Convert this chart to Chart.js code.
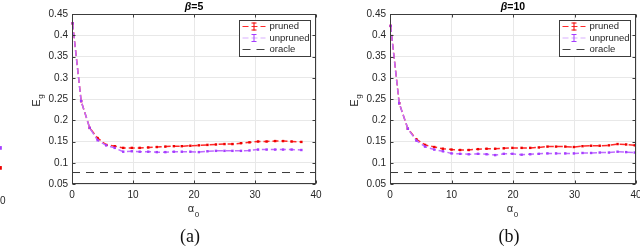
<!DOCTYPE html>
<html>
<head>
<meta charset="utf-8">
<script src="https://cdn.jsdelivr.net/npm/chart.js@4.4.0/dist/chart.umd.min.js"></script>
<style>
  html, body { margin: 0; padding: 0; background: #fff; overflow: hidden; width: 640px; height: 252px; }
  canvas { position: absolute; top: 0; }
</style>
</head>
<body>
<canvas id="panelC" width="330" height="252" style="left:-316px; top:6px"></canvas>
<canvas id="panelA" width="330" height="252" style="left:0"></canvas>
<canvas id="panelB" width="330" height="252" style="left:320px"></canvas>
<script>
// ---- data ----
const xTicks = [0, 10, 20, 30, 40];
const yTicks = [0.05, 0.1, 0.15, 0.2, 0.25, 0.3, 0.35, 0.4, 0.45];

// (a) beta = 5
const alphaA = [0.1, 1.5, 2.9, 4.2, 5.6, 7.0, 8.4, 9.8, 11.1, 12.5, 13.9, 15.3, 16.7, 18.0,
                19.4, 20.8, 22.2, 23.6, 25.0, 26.3, 27.7, 29.1, 30.5, 31.9, 33.3, 34.6, 36.0, 37.6];
const prunedA = [0.428, 0.245, 0.182, 0.158, 0.142, 0.139, 0.135, 0.135, 0.135, 0.136, 0.137, 0.138, 0.139, 0.139,
                 0.140, 0.141, 0.142, 0.143, 0.144, 0.144, 0.146, 0.148, 0.150, 0.150, 0.151, 0.151, 0.150, 0.149];
const unprunedA = [0.428, 0.245, 0.182, 0.153, 0.141, 0.135, 0.126, 0.127, 0.126, 0.126, 0.125, 0.125, 0.126, 0.126,
                   0.126, 0.125, 0.127, 0.128, 0.128, 0.128, 0.128, 0.129, 0.131, 0.131, 0.131, 0.131, 0.131, 0.130];
const oracleA = 0.077;

// (b) beta = 10
const alphaB = [0.1, 1.5, 2.9, 4.3, 5.7, 7.2, 8.6, 10.0, 11.4, 12.8, 14.3, 15.7, 17.1, 18.5, 19.9,
                21.4, 22.8, 24.2, 25.6, 27.0, 28.5, 29.9, 31.3, 32.7, 34.1, 35.6, 37.0, 38.4, 39.8];
const prunedB = [0.422, 0.240, 0.180, 0.155, 0.142, 0.137, 0.133, 0.131, 0.130, 0.130, 0.132, 0.133, 0.133, 0.134, 0.135,
                 0.135, 0.135, 0.136, 0.138, 0.138, 0.138, 0.137, 0.139, 0.140, 0.140, 0.141, 0.144, 0.143, 0.141];
const unprunedB = [0.422, 0.240, 0.180, 0.152, 0.138, 0.131, 0.127, 0.122, 0.121, 0.120, 0.121, 0.120, 0.118, 0.121, 0.121,
                   0.119, 0.120, 0.121, 0.122, 0.122, 0.122, 0.122, 0.123, 0.123, 0.124, 0.124, 0.126, 0.125, 0.124];
const oracleB = 0.077;

// cut-off panel on the far left, only its last points show
const alphaC = [40];
const prunedC = [0.102];
const unprunedC = [0.149];

// ---- styles ----
const RED_LINE = '#ff2a2a', RED_PT = '#ee0000';
const PUR_LINE = '#bf6cff', PUR_PT = '#a53dff', PUR_LEG = '#d9b0ff';
const GRID = '#e8e8e8', AXIS = '#3c3c3c', TXT = '#262626';
const SANS = '"Liberation Sans", Arial, sans-serif';

const pts = (xs, ys) => ys.map((y, i) => ({ x: xs[i], y }));

function errIcon(ctx, x, y, color) {
    ctx.save();
    ctx.strokeStyle = color;
    ctx.lineWidth = 1;
    ctx.setLineDash([]);
    ctx.beginPath();
    ctx.moveTo(x + 0.5, y - 4); ctx.lineTo(x + 0.5, y + 4);
    ctx.moveTo(x - 2, y - 4 + 0.5); ctx.lineTo(x + 3, y - 4 + 0.5);
    ctx.moveTo(x - 2, y + 4 - 0.5); ctx.lineTo(x + 3, y + 4 - 0.5);
    ctx.stroke();
    ctx.restore();
}

const decor = {
    id: 'decor',
    afterDraw(chart, args, o) {
        if (!o.title) return;   // the cut-off panel gets no frame or labels
        const { ctx, chartArea: a, scales } = chart;
        const L = Math.round(a.left) + 0.5, R = Math.round(a.right) - 0.5;
        const T = Math.round(a.top) + 0.5, B = Math.round(a.bottom) - 0.5;
        ctx.save();
        // box + inward ticks
        ctx.strokeStyle = AXIS;
        ctx.lineWidth = 1;
        ctx.strokeRect(L, T, R - L, B - T);
        ctx.beginPath();
        xTicks.forEach(v => {
            const px = Math.round(scales.x.getPixelForValue(v)) + 0.5;
            ctx.moveTo(px, B); ctx.lineTo(px, B - 3);
            ctx.moveTo(px, T); ctx.lineTo(px, T + 3);
        });
        yTicks.forEach(v => {
            const py = Math.round(scales.y.getPixelForValue(v)) + 0.5;
            ctx.moveTo(L, py); ctx.lineTo(L + 3, py);
            ctx.moveTo(R, py); ctx.lineTo(R - 3, py);
        });
        ctx.stroke();

        // legend
        const bw = 71, bh = 36;
        const bx = Math.round(a.right) - 6 - bw + 0.5, by = Math.round(a.top) + 6 + 0.5;
        ctx.fillStyle = '#fff';
        ctx.fillRect(bx, by, bw, bh);
        ctx.strokeStyle = AXIS;
        ctx.strokeRect(bx, by, bw, bh);
        const rows = [
            { text: 'pruned', line: RED_LINE, err: RED_PT, dash: [6, 3] },
            { text: 'unpruned', line: PUR_LEG, err: PUR_PT, dash: [6, 3] },
            { text: 'oracle', line: '#444', err: null, dash: [8, 6] },
        ];
        ctx.font = '9.5px ' + SANS;
        ctx.textBaseline = 'middle';
        rows.forEach((r, i) => {
            const y = by + 6 + i * 11.5;
            ctx.save();
            ctx.strokeStyle = r.line;
            ctx.lineWidth = 1.2;
            ctx.setLineDash(r.dash);
            ctx.beginPath();
            ctx.moveTo(bx + 3, y); ctx.lineTo(bx + 26, y);
            ctx.stroke();
            ctx.restore();
            if (r.err) errIcon(ctx, bx + 14, y, r.err);
            ctx.fillStyle = TXT;
            ctx.fillText(r.text, bx + 30, y);
        });

        // title  (bold, beta italic)
        const cx = (a.left + a.right) / 2;
        const tb = 'bold italic 10.5px ' + SANS, tr = 'bold 10.5px ' + SANS;
        ctx.font = tb; const wb = ctx.measureText('β').width;
        ctx.font = tr; const wr = ctx.measureText(o.title).width;
        const tx = cx - (wb + wr) / 2;
        ctx.fillStyle = '#000';
        ctx.textAlign = 'left';
        ctx.font = tb; ctx.fillText('β', tx, 7);
        ctx.font = tr; ctx.fillText(o.title, tx + wb, 7);

        // y label E_g
        ctx.save();
        ctx.translate(a.left - 36, (a.top + a.bottom) / 2 + 2);
        ctx.rotate(-Math.PI / 2);
        ctx.fillStyle = TXT;
        ctx.textBaseline = 'alphabetic';
        ctx.font = '11px ' + SANS;
        const we = ctx.measureText('E').width;
        ctx.fillText('E', -we / 2 - 2, 4);
        ctx.font = '8px ' + SANS;
        ctx.fillText('g', we / 2 - 1.5, 6.5);
        ctx.restore();

        // x label alpha_0
        ctx.fillStyle = TXT;
        ctx.textBaseline = 'alphabetic';
        ctx.font = '11px ' + SANS;
        const wa = ctx.measureText('α').width;
        ctx.fillText('α', cx - wa / 2 - 3, 212);
        ctx.font = '8px ' + SANS;
        ctx.fillText('0', cx + wa / 2 - 2.5, 216.5);

        // caption
        ctx.font = '18px "Liberation Serif", "DejaVu Serif", serif';
        ctx.fillStyle = '#111';
        ctx.textAlign = 'center';
        ctx.textBaseline = 'middle';
        ctx.fillText(o.caption, cx - 4, 237);
        ctx.restore();
    }
};

function makeChart(id, p) {
    return new Chart(document.getElementById(id), {
        type: 'line',
        data: {
            datasets: [
                {
                    label: 'unpruned', data: pts(p.alpha, p.unpruned),
                    borderColor: PUR_LINE, borderWidth: 1.5, borderDash: [6, 3],
                    pointStyle: 'rect', pointRadius: p.ptR, pointBackgroundColor: PUR_PT, pointBorderWidth: 0,
                    clip: false,
                },
                {
                    label: 'pruned', data: pts(p.alpha, p.pruned),
                    borderColor: RED_LINE, borderWidth: 1.5, borderDash: [6, 3],
                    pointStyle: 'rect', pointRadius: p.ptR, pointBackgroundColor: RED_PT, pointBorderWidth: 0,
                    clip: false,
                },
                {
                    label: 'oracle',
                    data: p.oracle == null ? [] : [{ x: xTicks[0], y: p.oracle }, { x: xTicks[xTicks.length - 1], y: p.oracle }],
                    borderColor: '#3a3a3a', borderWidth: 1, borderDash: [8, 6], pointRadius: 0,
                },
            ],
        },
        options: {
            responsive: false,
            animation: false,
            events: [],
            layout: { padding: { left: p.padLeft, right: 14, top: 14, bottom: 48 } },
            plugins: {
                legend: { display: false },
                tooltip: { enabled: false },
                decor: p,
            },
            scales: {
                x: {
                    type: 'linear', min: 0, max: 40,
                    afterBuildTicks: s => { s.ticks = xTicks.map(v => ({ value: v })); },
                    afterFit: s => { s.height = 20; },
                    grid: { display: p.grid, color: GRID, drawTicks: false },
                    border: { display: false },
                    ticks: { color: TXT, font: { family: SANS, size: 10 }, padding: 5, maxRotation: 0, autoSkip: false },
                },
                y: {
                    type: 'linear', min: 0.05, max: 0.45,
                    afterBuildTicks: s => { s.ticks = yTicks.map(v => ({ value: v })); },
                    afterFit: s => { s.width = 40; },
                    grid: { display: p.grid, color: GRID, drawTicks: false },
                    border: { display: false },
                    ticks: {
                        color: TXT, font: { family: SANS, size: 10 }, padding: 4, autoSkip: false,
                        callback: v => String(+v.toFixed(2)),
                    },
                },
            },
        },
        plugins: [decor],
    });
}

makeChart('panelC', { alpha: alphaC, pruned: prunedC, unpruned: unprunedC, oracle: null, padLeft: 32, ptR: 2.6,
                      grid: false });
makeChart('panelA', { alpha: alphaA, pruned: prunedA, unpruned: unprunedA, oracle: oracleA, padLeft: 32, ptR: 1.7,
                      grid: true, title: '=5', caption: '(a)' });
makeChart('panelB', { alpha: alphaB, pruned: prunedB, unpruned: unprunedB, oracle: oracleB, padLeft: 30, ptR: 1.7,
                      grid: true, title: '=10', caption: '(b)' });
</script>
</body>
</html>
